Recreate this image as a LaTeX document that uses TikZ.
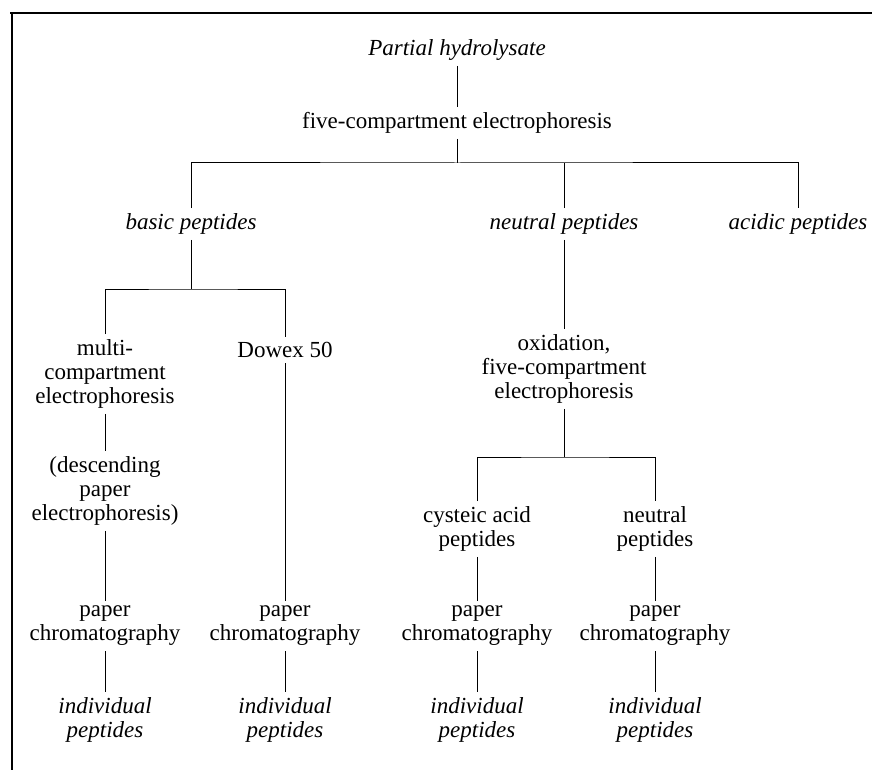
\documentclass[tikz,border=0pt]{standalone}
\usepackage{fontspec}
\setmainfont{Liberation Serif}
\usetikzlibrary{calc}

\begin{document}
\begin{tikzpicture}[x=0.5pt, y=-0.5pt,
		txt/.style={align=center, inner sep=2.5pt, font=\fontsize{11.5}{12}\selectfont},
		itxt/.style={txt, font=\fontsize{11.5}{12}\selectfont\itshape},
		link/.style={line width=0.5pt}]
		%%%%% START %%%%%
		\useasboundingbox (0, 0) rectangle (872, 770);
		
		\draw[line width=1.1pt] (10, 13) -- (872, 13);
		\draw[line width=1.1pt] (12, 13) -- (12, 770);
		
		\node[itxt] (hyd) at (457, 50) {Partial hydrolysate};
		\node[txt] (fce) at (457, 123) {five-compartment electrophoresis};
		
		\node[itxt] (basic) at (191, 224) {basic peptides};
		\node[itxt] (neutral) at (564, 224) {neutral peptides};
		\node[itxt] (acidic) at (798, 224) {acidic peptides};
		
		\node[txt] (multi) at (105, 374) {multi-\\compartment\\electrophoresis};
		\node[txt] (dowex) at (285, 350) {Dowex 50};
		\node[txt] (desc) at (105, 491) {(descending\\paper\\electrophoresis)};
		
		\node[txt] (oxid) at (564, 369) {oxidation,\\five-compartment\\electrophoresis};
		\node[txt] (cys) at (477, 529) {cysteic acid\\peptides};
		\node[txt] (neut) at (655, 529) {neutral\\peptides};
		
		\node[txt] (pcA) at (105, 626) {paper\\chromatography};
		\node[txt] (pcB) at (285, 626) {paper\\chromatography};
		\node[txt] (pcC) at (477, 626) {paper\\chromatography};
		\node[txt] (pcD) at (655, 626) {paper\\chromatography};
		
		\node[itxt] (indA) at (105, 720) {individual\\peptides};
		\node[itxt] (indB) at (285, 720) {individual\\peptides};
		\node[itxt] (indC) at (477, 720) {individual\\peptides};
		\node[itxt] (indD) at (655, 720) {individual\\peptides};
		
		\coordinate (busA) at (457, 163);
		\coordinate (busB) at (191, 289);
		\coordinate (busC) at (564, 457);
		
		\draw[link] (hyd) -- (fce);
		\draw[link] (fce) -- (busA);
		\draw[link] (basic.north) |- (busA) -| (acidic.north);
		\draw[link] (neutral.north) -- (neutral.north |- busA);
		
		\draw[link] (basic) -- (busB);
		\draw[link] (multi.north) |- (busB) -| (dowex.north);
		\draw[link] (multi) -- (desc);
		\draw[link] (desc) -- (pcA);
		\draw[link] (dowex) -- (pcB);
		
		\draw[link] (neutral) -- (oxid);
		\draw[link] (oxid) -- (busC);
		\draw[link] (cys.north) |- (busC) -| (neut.north);
		\draw[link] (cys) -- (pcC);
		\draw[link] (neut) -- (pcD);
		
		\draw[link] (pcA) -- (indA);
		\draw[link] (pcB) -- (indB);
		\draw[link] (pcC) -- (indC);
		\draw[link] (pcD) -- (indD);
		%%%%% END %%%%%
	\end{tikzpicture}
\end{document}
